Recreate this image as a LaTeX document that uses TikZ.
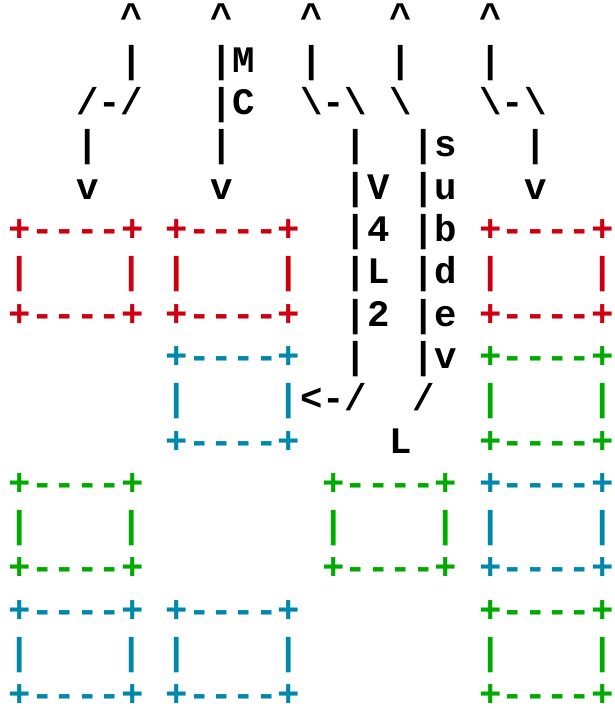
\documentclass[tikz,border=0pt]{standalone}
\usepackage{fontspec}
\setmonofont{Liberation Mono}
\definecolor{asred}{HTML}{CC0011}
\definecolor{asteal}{HTML}{0088AA}
\definecolor{asgreen}{HTML}{00AA00}
\tikzset{
  ch/.style={inner sep=0pt, outer sep=0pt, anchor=base west,
    font=\ttfamily\bfseries\fontsize{37.4}{42.3}\selectfont},
  ink/.style={text=black},
  redbox/.style={text=asred},
  tealbox/.style={text=asteal},
  greenbox/.style={text=asgreen}
}
\newcommand\tx[5]{\node[ch,#4] (#5) at ({8.8+22.4*(#1)},{-30-42.3*(#2)}) {#3};}
\newcommand\asbox[4]{%
  \tx{#2}{#3}{+-{}-{}-{}-+}{#4}{#1t}
  \tx{#2}{#3+1}{|}{#4}{#1l}
  \tx{#2+5}{#3+1}{|}{#4}{#1r}
  \tx{#2}{#3+2}{+-{}-{}-{}-+}{#4}{#1b}}
\newcommand\bs{\textbackslash}
\begin{document}
\begin{tikzpicture}[x=1pt,y=1pt]
\useasboundingbox (0,0) rectangle (614,-709);
% line 0
\tx{5}{0}{\textasciicircum}{ink}{a0}
\tx{9}{0}{\textasciicircum}{ink}{b0}
\tx{13}{0}{\textasciicircum}{ink}{c0}
\tx{17}{0}{\textasciicircum}{ink}{d0}
\tx{21}{0}{\textasciicircum}{ink}{e0}
% line 1
\tx{5}{1}{|}{ink}{a1}
\tx{9}{1}{|M}{ink}{b1}
\tx{13}{1}{|}{ink}{c1}
\tx{17}{1}{|}{ink}{d1}
\tx{21}{1}{|}{ink}{e1}
% line 2
\tx{3}{2}{/-/}{ink}{a2}
\tx{9}{2}{|C}{ink}{b2}
\tx{13}{2}{\bs-\bs}{ink}{c2}
\tx{17}{2}{\bs}{ink}{d2}
\tx{21}{2}{\bs-\bs}{ink}{e2}
% line 3
\tx{3}{3}{|}{ink}{a3}
\tx{9}{3}{|}{ink}{b3}
\tx{15}{3}{|}{ink}{c3}
\tx{18}{3}{|s}{ink}{d3}
\tx{23}{3}{|}{ink}{e3}
% line 4
\tx{3}{4}{v}{ink}{a4}
\tx{9}{4}{v}{ink}{b4}
\tx{15}{4}{|V}{ink}{c4}
\tx{18}{4}{|u}{ink}{d4}
\tx{23}{4}{v}{ink}{e4}
% lines 5-10 labels
\tx{15}{5}{|4}{ink}{c5}
\tx{18}{5}{|b}{ink}{d5}
\tx{15}{6}{|L}{ink}{c6}
\tx{18}{6}{|d}{ink}{d6}
\tx{15}{7}{|2}{ink}{c7}
\tx{18}{7}{|e}{ink}{d7}
\tx{15}{8}{|}{ink}{c8}
\tx{18}{8}{|v}{ink}{d8}
\tx{13}{9}{<-/}{ink}{c9}
\tx{18}{9}{/}{ink}{d9}
\tx{17}{10}{L}{ink}{d10}
% boxes
\asbox{r1}{0}{5}{redbox}
\asbox{r2}{7}{5}{redbox}
\asbox{r3}{21}{5}{redbox}
\asbox{t1}{7}{8}{tealbox}
\asbox{g1}{21}{8}{greenbox}
\asbox{g2}{0}{11}{greenbox}
\asbox{g3}{14}{11}{greenbox}
\asbox{t2}{21}{11}{tealbox}
\asbox{t3}{0}{14}{tealbox}
\asbox{t4}{7}{14}{tealbox}
\asbox{g4}{21}{14}{greenbox}
\end{tikzpicture}
\end{document}
